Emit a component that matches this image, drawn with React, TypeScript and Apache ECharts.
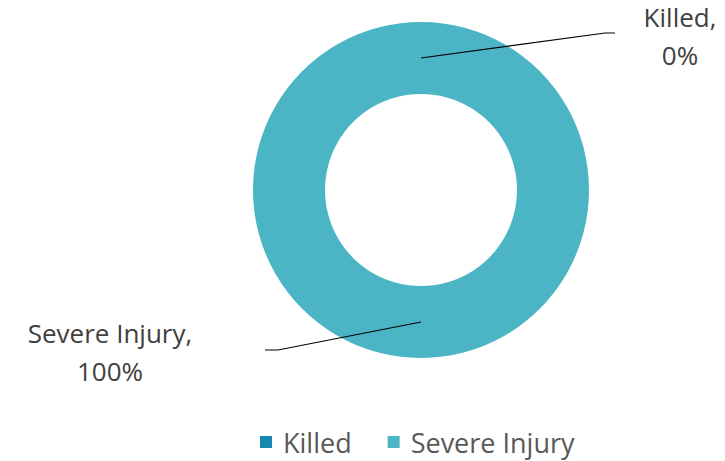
import React, { useEffect, useRef } from 'react';
import * as echarts from 'echarts';

const categories = ['Killed', 'Severe Injury'];
const values = [0, 100];
const colors = ['#1688b0', '#4bb5c6'];

// layout constants
const CENTER = [421, 190];
const RADIUS = [96, 168];
const LINE_R = 132;
const labelCenters = [
  { x: 680, y: 36 },
  { x: 110, y: 352 },
];
const lineEnds = [615, 265];
const lineYs = [33, 350];

export default function App() {
  const ref = useRef<HTMLDivElement>(null);
  useEffect(() => {
    document.body.style.margin = '0';
    const chart = echarts.init(ref.current!, null, { renderer: 'svg' });
    const data = categories.map((c, i) => ({ name: c, value: values[i], itemStyle: { color: colors[i] } }));
    const labelData = categories.map((c, i) => ({ name: c, value: values[i] }));
    const total = values.reduce((a, b) => a + b, 0);
    const midAngles: number[] = [];
    let cum = 0;
    values.forEach((v) => {
      midAngles.push(((90 - (360 * (cum + v / 2)) / total) * Math.PI) / 180);
      cum += v;
    });
    chart.setOption({
      animation: false,
      legend: {
        top: 426,
        left: 260,
        padding: 0,
        icon: 'rect',
        itemWidth: 12,
        itemHeight: 12,
        itemGap: 36,
        data: categories,
        textStyle: { fontFamily: 'Open Sans', fontSize: 27, lineHeight: 32, color: '#595959', padding: [0, 0, 0, 6] },
      },
      series: [
        {
          type: 'pie',
          z: 2,
          center: CENTER,
          radius: RADIUS,
          silent: true,
          label: { show: false },
          labelLine: { show: false },
          data,
        },
        {
          type: 'pie',
          z: 5,
          center: CENTER,
          radius: [0, LINE_R],
          silent: true,
          itemStyle: { color: 'rgba(0,0,0,0)' },
          label: {
            show: true,
            formatter: '{b},\n{d}%',
            fontFamily: 'Open Sans',
            fontSize: 26,
            lineHeight: 38,
            color: '#404040',
            align: 'center',
          },
          labelLine: { show: true, lineStyle: { color: '#000', width: 1.2 } },
          labelLayout: (p: any) => {
            const i = p.dataIndex;
            const pos = labelCenters[i];
            const a = midAngles[i];
            const start = [CENTER[0] + LINE_R * Math.cos(a), CENTER[1] - LINE_R * Math.sin(a)];
            const end = lineEnds[i];
            const elbow = i === 0 ? end - 10 : end + 13;
            const ly = lineYs[i];
            return {
              x: pos.x,
              y: pos.y,
              align: 'center',
              verticalAlign: 'middle',
              labelLinePoints: [start, [elbow, ly], [end, ly]],
            };
          },
          data: labelData,
        },
      ],
    });
    return () => chart.dispose();
  }, []);
  return <div ref={ref} style={{ width: 725, height: 461 }} />;
}
